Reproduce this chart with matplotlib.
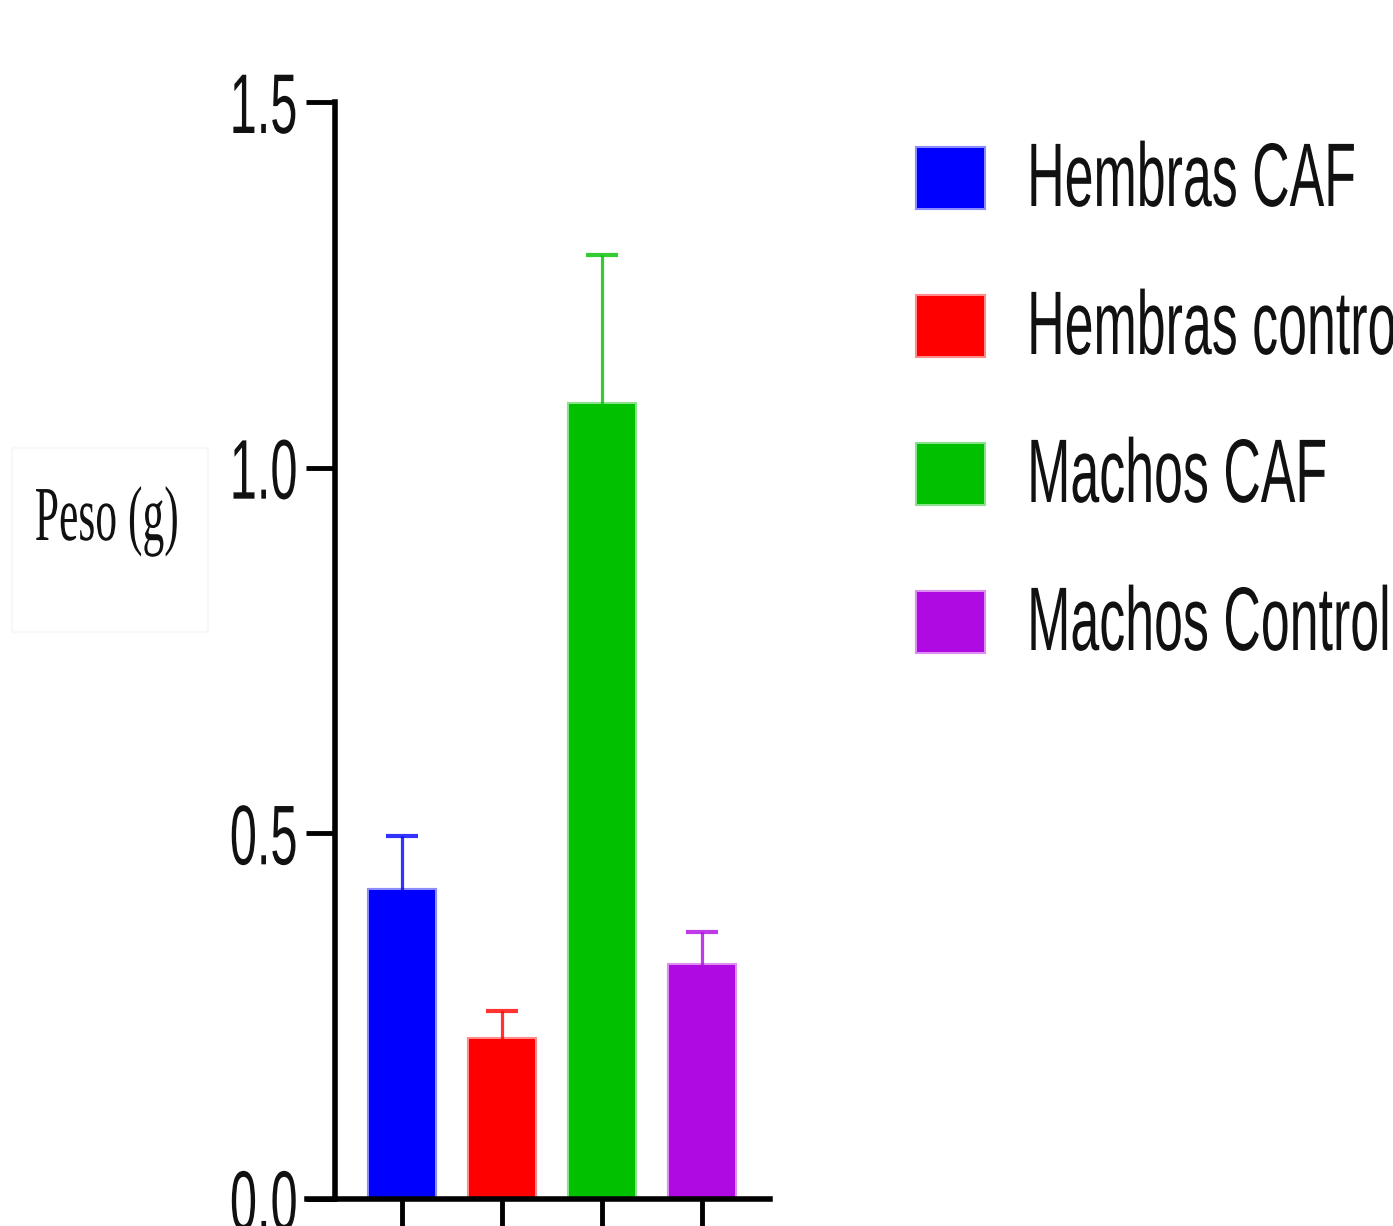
import numpy as np
import matplotlib
matplotlib.use('Agg')
import matplotlib.pyplot as plt
from matplotlib.patches import Rectangle
from matplotlib.patheffects import AbstractPathEffect
from matplotlib.transforms import Affine2D

# group weights (g): mean and upper error
groups = ['Hembras CAF', 'Hembras control', 'Machos CAF', 'Machos Control']
means = [0.423, 0.219, 1.087, 0.320]
errors = [0.073, 0.038, 0.204, 0.045]
colors = ['#0000ff', '#ff0000', '#00c000', '#b00ae2']
yticks = [0.0, 0.5, 1.0, 1.5]
ytick_labels = ['0.0', '0.5', '1.0', '1.5']


class Narrow(AbstractPathEffect):
    """Squeeze glyphs horizontally, keeping one edge of the text fixed."""

    def __init__(self, sx, anchor='left'):
        super().__init__()
        self.sx = sx
        self.anchor = anchor

    def draw_path(self, renderer, gc, tpath, affine, rgbFace=None):
        ext = tpath.get_extents()
        x0 = {'left': ext.x0, 'right': ext.x1,
              'center': 0.5 * (ext.x0 + ext.x1)}[self.anchor]
        squeeze = Affine2D().translate(-x0, 0).scale(self.sx, 1).translate(x0, 0)
        renderer.draw_path(gc, tpath, squeeze + affine, rgbFace)


W, H = 1393, 1226
fig = plt.figure(figsize=(W / 100, H / 100), dpi=100)
ax = fig.add_axes([307 / W, (H - 1199) / H, 463 / W, (1199 - 102) / H])

x = np.arange(len(groups))
ax.bar(x, means, width=0.66, color=colors,
       edgecolor=[(c, 0.45) for c in colors], linewidth=3, zorder=2)
for xi, m, e, c in zip(x, means, errors, colors):
    _, caps, _ = ax.errorbar(xi, m, yerr=[[0], [e]], fmt='none', ecolor=c,
                             alpha=0.8, elinewidth=2.3, capsize=11.5,
                             capthick=3, zorder=3)
    # only the upper cap is wanted
    for cap in caps:
        if np.isclose(cap.get_ydata()[0], m):
            cap.set_visible(False)

ax.set_xlim(-0.95, 3.68)
ax.set_ylim(0, 1.5)
ax.spines['top'].set_visible(False)
ax.spines['right'].set_visible(False)
ax.spines['left'].set_position(('data', -0.67))
ax.spines['left'].set_linewidth(4)
ax.spines['bottom'].set_linewidth(4)

ax.set_xticks(x, [''] * len(x))
ax.tick_params(axis='x', length=20, width=3.5, direction='out')
ax.set_yticks(yticks, ytick_labels)
ax.tick_params(axis='y', length=21, width=3.5, pad=5, labelsize=61)
for lbl in ax.get_yticklabels():
    lbl.set_family('Liberation Sans')
    lbl.set_color('#111111')
    lbl.set_path_effects([Narrow(0.575, 'right')])

# y label with its faint frame
fig.text(107 / W, 1 - 540 / H, 'Peso (g)', family='Liberation Serif', size=56,
         color='#111111', ha='center', va='baseline',
         path_effects=[Narrow(0.56, 'center')])
fig.add_artist(Rectangle((12 / W, 1 - 632 / H), 196 / W, 184 / H,
                         transform=fig.transFigure, fill=False,
                         edgecolor='#f8f8f8', linewidth=1.5))

# legend
for i, (name, c) in enumerate(zip(groups, colors)):
    yc = 178 + 148 * i
    fig.add_artist(Rectangle((917 / W, 1 - (yc + 30) / H), 67 / W, 60 / H,
                             transform=fig.transFigure, facecolor=c,
                             edgecolor=(c, 0.45), linewidth=3))
    fig.text(1024 / W, 1 - (yc + 28) / H, name, family='Liberation Sans',
             size=65, color='#111111', ha='left', va='baseline',
             path_effects=[Narrow(0.575, 'left')])

fig.savefig('out.png', dpi=100)
